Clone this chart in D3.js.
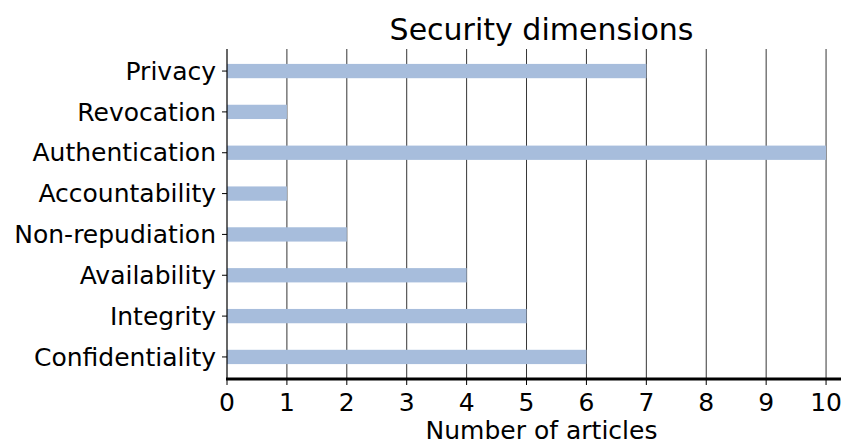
<!DOCTYPE html>
<html>
<head>
<meta charset="utf-8">
<script src="https://cdn.jsdelivr.net/npm/d3@7"></script>
<style>
  body { margin: 0; background: #fff; }
  text { font-family: "DejaVu Sans", sans-serif; fill: #000; }
</style>
</head>
<body>
<svg id="chart" width="841" height="444"></svg>
<script>
// categories listed bottom to top
const categories = ['Confidentiality', 'Integrity', 'Availability', 'Non-repudiation',
                    'Accountability', 'Authentication', 'Revocation', 'Privacy'];
const counts = [6, 5, 4, 2, 1, 10, 1, 7];
const xTicks = [0, 1, 2, 3, 4, 5, 6, 7, 8, 9, 10];

const svg = d3.select('#chart');
const margin = { top: 49, left: 227, bottom: 379, right: 856 };

const x = d3.scaleLinear().domain([0, 10.5]).range([margin.left, margin.right]);
const y = d3.scaleLinear().domain([-0.54, 7.54]).range([margin.bottom, margin.top]);
const barH = (y(0) - y(1)) * 0.35;

// grid
svg.append('g').selectAll('line')
    .data(xTicks.slice(1))
    .enter().append('line')
    .attr('x1', d => x(d)).attr('x2', d => x(d))
    .attr('y1', margin.top).attr('y2', margin.bottom)
    .attr('stroke', '#000').attr('stroke-width', 0.8);

// bars
svg.append('g').selectAll('rect')
    .data(counts)
    .enter().append('rect')
    .attr('x', x(0))
    .attr('y', (d, i) => y(i) - barH / 2)
    .attr('width', d => x(d) - x(0))
    .attr('height', barH)
    .attr('fill', '#a7bddc');

// left spine + ticks
svg.append('line')
    .attr('x1', x(0)).attr('x2', x(0))
    .attr('y1', margin.top).attr('y2', margin.bottom)
    .attr('stroke', '#000').attr('stroke-width', 1.2);

const yAxis = svg.append('g');
categories.forEach((c, i) => {
    yAxis.append('line')
        .attr('x1', x(0) - 5).attr('x2', x(0))
        .attr('y1', y(i)).attr('y2', y(i))
        .attr('stroke', '#000').attr('stroke-width', 1);
    yAxis.append('text')
        .attr('x', x(0) - 11).attr('y', y(i))
        .attr('dy', '0.35em')
        .attr('text-anchor', 'end')
        .attr('font-size', 25)
        .text(c);
});

// bottom axis
svg.append('line')
    .attr('x1', x(0) - 1).attr('x2', margin.right)
    .attr('y1', margin.bottom).attr('y2', margin.bottom)
    .attr('stroke', '#000').attr('stroke-width', 3);

const xAxis = svg.append('g');
xTicks.forEach(t => {
    xAxis.append('line')
        .attr('x1', x(t)).attr('x2', x(t))
        .attr('y1', margin.bottom).attr('y2', margin.bottom + 6)
        .attr('stroke', '#000').attr('stroke-width', 1);
    xAxis.append('text')
        .attr('x', x(t)).attr('y', 411)
        .attr('text-anchor', 'middle')
        .attr('font-size', 25)
        .text(t);
});

svg.append('text')
    .attr('x', (margin.left + margin.right) / 2).attr('y', 439)
    .attr('text-anchor', 'middle')
    .attr('font-size', 25)
    .text('Number of articles');

svg.append('text')
    .attr('x', (margin.left + margin.right) / 2).attr('y', 40)
    .attr('text-anchor', 'middle')
    .attr('font-size', 30)
    .text('Security dimensions');
</script>
</body>
</html>
